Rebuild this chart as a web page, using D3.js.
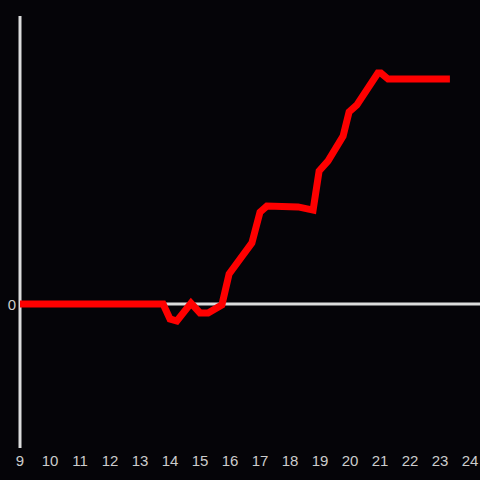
<!DOCTYPE html>
<html>
<head>
<meta charset="utf-8">
<script src="https://cdn.jsdelivr.net/npm/d3@7"></script>
<style>
  html, body { margin: 0; padding: 0; background: #050408; }
  svg { display: block; }
</style>
</head>
<body>
<div id="chart"></div>
<script>
// data
const xs = [9, 13.77, 14.0, 14.23, 14.7, 15.0, 15.27, 15.73, 15.97, 16.73, 17.0, 17.23, 18.27, 18.77, 18.97, 19.27, 19.77, 19.97, 20.23, 20.93, 21.03, 21.27, 23.33]
const ys = [0, 0, -5.2, -5.9, 0.3, -3.1, -3.1, -0.3, 10.4, 21.2, 31.9, 34.0, 33.7, 32.6, 46.2, 49.7, 58.3, 66.7, 69.1, 80.2, 80.2, 78.1, 78.1]
const xTicks = [9, 10, 11, 12, 13, 14, 15, 16, 17, 18, 19, 20, 21, 22, 23, 24]
const yTicks = [0]

const width = 480
const height = 480
const font = "'Liberation Sans Narrow', 'Arial Narrow', sans-serif"

const x = d3.scaleLinear().domain([9, 24]).range([20, 470])
const y = d3.scaleLinear().domain([-50, 100]).range([448, 16])

const svg = d3.select("#chart")
  .append("svg")
  .attr("width", width)
  .attr("height", height)

svg.append("rect")
  .attr("width", width)
  .attr("height", height)
  .attr("fill", "#050408")

// zero line
svg.append("line")
  .attr("x1", x(9))
  .attr("x2", width)
  .attr("y1", y(0))
  .attr("y2", y(0))
  .attr("stroke", "#dcdcdc")
  .attr("stroke-width", 3)

// y axis line
svg.append("line")
  .attr("x1", x(9))
  .attr("x2", x(9))
  .attr("y1", y(100))
  .attr("y2", y(-50))
  .attr("stroke", "#dcdcdc")
  .attr("stroke-width", 3)

svg.append("g")
  .selectAll("text")
  .data(xTicks)
  .join("text")
    .attr("x", d => x(d))
    .attr("y", 466)
    .attr("text-anchor", "middle")
    .attr("fill", "#cccccc")
    .attr("font-family", font)
    .attr("font-size", 15)
    .text(d => d)

svg.append("g")
  .selectAll("text")
  .data(yTicks)
  .join("text")
    .attr("x", 16)
    .attr("y", d => y(d) + 6)
    .attr("text-anchor", "end")
    .attr("fill", "#cccccc")
    .attr("font-family", font)
    .attr("font-size", 15)
    .text(d => d)

const points = xs.map((d, i) => [d, ys[i]])

svg.append("path")
  .datum(points)
  .attr("fill", "none")
  .attr("stroke", "#ff0000")
  .attr("stroke-width", 7)
  .attr("d", d3.line().x(d => x(d[0])).y(d => y(d[1])))
</script>
</body>
</html>
